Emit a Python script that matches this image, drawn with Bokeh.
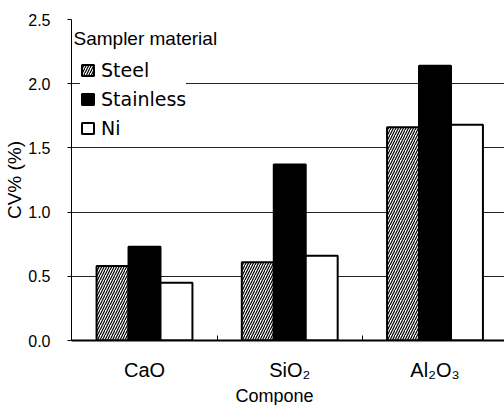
from bokeh.plotting import figure
from bokeh.models import (ColumnDataSource, Range1d, FixedTicker, Legend, LegendItem, Label, Title)
from bokeh.transform import dodge
from bokeh.embed import file_html
from bokeh.resources import INLINE

# ---- data ----
components = ["CaO", "SiO₂", "Al₂O₃"]
steel = [0.58, 0.61, 1.66]
stainless = [0.73, 1.37, 2.14]
ni = [0.45, 0.66, 1.68]
series_names = ["Steel", "Stainless", "Ni"]
y_ticks = [0.0, 0.5, 1.0, 1.5, 2.0, 2.5]

FONT = "Liberation Sans"

src = ColumnDataSource(dict(x=list(range(len(components))), steel=steel,
                            stainless=stainless, ni=ni))

p = figure(width=504, height=405, output_backend="svg", toolbar_location=None,
           x_range=Range1d(-0.5026, 2.4785), y_range=Range1d(0, 2.5),
           min_border_left=71, min_border_right=0, min_border_top=19,
           min_border_bottom=63)
p.outline_line_color = None
p.background_fill_color = "white"
p.border_fill_color = "white"

bw = 0.22
r_steel = p.vbar(x=dodge("x", -bw, range=p.x_range), top="steel", width=bw, source=src,
                 fill_color="white", line_color="black", line_width=2,
                 hatch_pattern="/", hatch_color="black", hatch_scale=5, hatch_weight=1.2)
r_stain = p.vbar(x=dodge("x", 0, range=p.x_range), top="stainless", width=bw, source=src,
                 fill_color="black", line_color="black", line_width=2)
r_ni = p.vbar(x=dodge("x", bw, range=p.x_range), top="ni", width=bw, source=src,
              fill_color="white", line_color="black", line_width=2)

# axes
p.xaxis.ticker = FixedTicker(ticks=[0, 0.5, 1, 1.5, 2])
p.xaxis.major_label_overrides = {0: components[0], 0.5: "", 1: components[1],
                                 1.5: "", 2: components[2]}
p.xaxis.major_tick_in = 5
p.xaxis.major_tick_out = 0
p.xaxis.minor_tick_line_color = None
p.xaxis.axis_line_width = 2
p.xaxis.axis_line_color = "black"
p.xaxis.major_tick_line_color = "black"
p.xaxis.major_label_text_font = FONT
p.xaxis.major_label_text_font_size = "20px"
p.xaxis.major_label_text_color = "black"
p.xaxis.major_label_standoff = 18

p.yaxis.ticker = FixedTicker(ticks=y_ticks)
p.yaxis.major_label_overrides = {t: f"{t:.1f}" for t in y_ticks}
p.yaxis.major_tick_in = 0
p.yaxis.major_tick_out = 4
p.yaxis.minor_tick_line_color = None
p.yaxis.axis_line_color = "black"
p.yaxis.major_tick_line_color = "black"
p.yaxis.major_label_text_font = FONT
p.yaxis.major_label_text_font_size = "16px"
p.yaxis.major_label_text_color = "black"
p.yaxis.major_label_text_align = "right"
p.yaxis.major_label_standoff = 17
p.yaxis.axis_label = "CV% (%)"
p.yaxis.axis_label_text_font = FONT
p.yaxis.axis_label_text_font_size = "19px"
p.yaxis.axis_label_text_font_style = "normal"
p.yaxis.axis_label_text_color = "black"
p.yaxis.axis_label_standoff = 0

p.xgrid.grid_line_color = None
p.ygrid.ticker = FixedTicker(ticks=y_ticks)
p.ygrid.grid_line_color = "#222222"
p.ygrid.grid_line_width = 1

# legend
legend = Legend(items=[LegendItem(label=series_names[0], renderers=[r_steel]),
                       LegendItem(label=series_names[1], renderers=[r_stain]),
                       LegendItem(label=series_names[2], renderers=[r_ni])],
                location=(9, 201), padding=5, margin=0, spacing=7,
                glyph_width=15, glyph_height=14, label_height=22,
                label_standoff=6, border_line_color=None,
                background_fill_color="white", background_fill_alpha=1,
                label_text_font="DejaVu Sans", label_text_font_size="19px",
                label_text_color="black")
p.add_layout(legend)

p.add_layout(Label(x=2, y=302, x_units="screen", y_units="screen",
                   text="Sampler material", text_font=FONT, text_font_size="19px",
                   text_align="left", text_baseline="middle", text_color="black"))

p.add_layout(Title(text="Compone", align="left", offset=164, standoff=0,
                   text_font=FONT, text_font_size="18px", text_font_style="normal",
                   text_color="black"), "below")

open("out.html", "w").write(file_html(p, INLINE))
